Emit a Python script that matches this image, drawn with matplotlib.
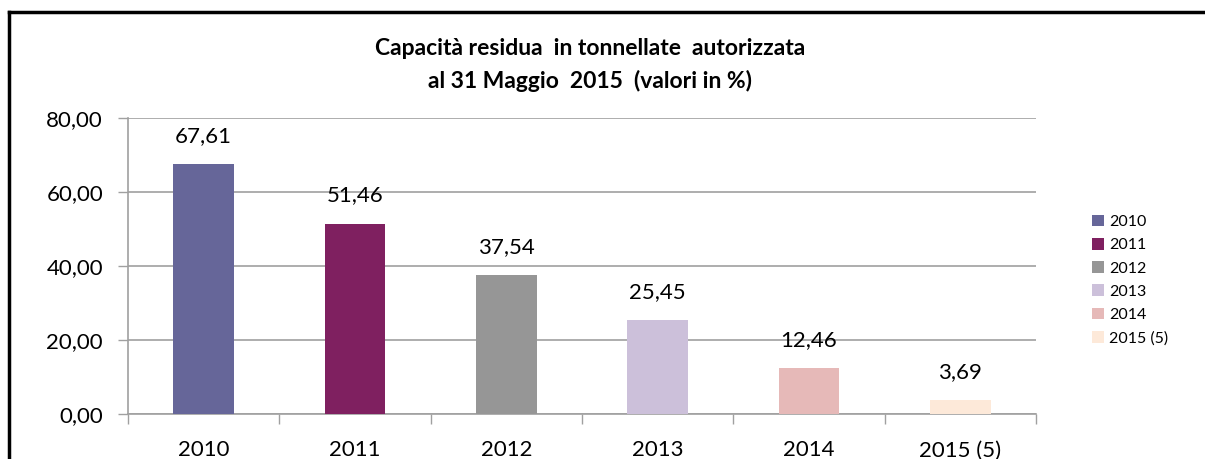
import matplotlib
matplotlib.use("Agg")
import matplotlib.pyplot as plt
from matplotlib.patches import Patch
from matplotlib.lines import Line2D

categories = ["2010", "2011", "2012", "2013", "2014", "2015 (5)"]
values = [67.61, 51.46, 37.54, 25.45, 12.46, 3.69]
colors = ["#666699", "#7f2060", "#969696", "#ccc0da", "#e6b9b8", "#fde9d9"]
yticks = [0, 20, 40, 60, 80]
title = "Capacità residua  in tonnellate  autorizzata\nal 31 Maggio  2015  (valori in %)"

plt.rcParams['font.family'] = ['Lato', 'DejaVu Sans']

fig = plt.figure(figsize=(12.05, 4.59), dpi=100)
ax = fig.add_axes([128/1205, 1-414/459, (1036-128)/1205, (414-118)/459])

x = list(range(len(categories)))
bars = ax.bar(x, values, width=0.4, color=colors, zorder=3)
for xi, v in zip(x, values):
    ax.annotate(f"{v:.2f}".replace(".", ","), (xi, v), xytext=(0, 13),
                textcoords="offset points", ha="center", va="bottom", fontsize=16)

ax.set_xlim(-0.5, len(categories) - 0.5)
ax.set_ylim(0, 80)
ax.set_yticks(yticks)
ax.set_yticklabels([f"{t:.2f}".replace(".", ",") for t in yticks], fontsize=16)
ax.yaxis.grid(True, color="#a0a0a0", linewidth=1.2, zorder=0)
ax.set_axisbelow(True)

ax.set_xticks(x)
ax.set_xticklabels(categories, fontsize=16)
ax.tick_params(axis="x", length=0, pad=19)
ax.set_xticks([i + 0.5 for i in range(-1, len(categories))], minor=True)
ax.tick_params(axis="x", which="minor", length=7, color="#a0a0a0", width=1)
ax.tick_params(axis="y", length=7, color="#a0a0a0", width=1, pad=11)

for s in ["top", "right"]:
    ax.spines[s].set_visible(False)
for s in ["left", "bottom"]:
    ax.spines[s].set_color("#a0a0a0")
    ax.spines[s].set_linewidth(1.2)

fig.text(590/1205, 1-65/459, title, ha="center", va="center", fontsize=16.5,
         fontweight="bold", linespacing=1.6)

handles = [Patch(facecolor=c, edgecolor="none") for c in colors]
fig.legend(handles, categories, loc="center left", bbox_to_anchor=(1092/1205, 1-280/459),
           frameon=False, fontsize=11.5, handlelength=0.75, handleheight=0.75,
           handletextpad=0.3, labelspacing=0.55, borderaxespad=0, borderpad=0)

# outer border
fig.add_artist(Line2D([9/1205, 9/1205], [0, 1-12/459], color="black", linewidth=2.5,
                      transform=fig.transFigure))
fig.add_artist(Line2D([9/1205, 1], [1-12/459, 1-12/459], color="black", linewidth=2.5,
                      transform=fig.transFigure))

fig.savefig("out.png", dpi=100)
